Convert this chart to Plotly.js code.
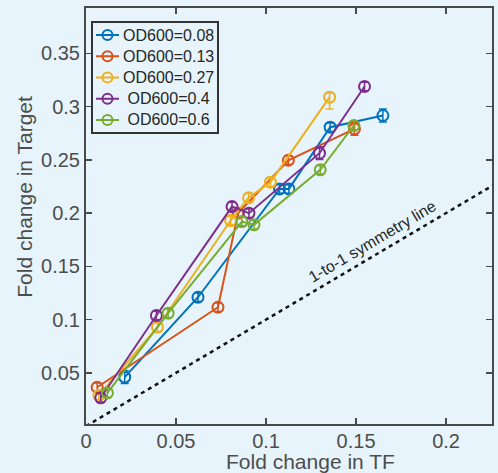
<!DOCTYPE html>
<html>
<head>
<meta charset="utf-8">
<script src="https://cdn.plot.ly/plotly-3.0.1.min.js"></script>
<style>
  html, body { margin: 0; padding: 0; background: #e7f4fb; }
  #chart { width: 498px; height: 473px; }
</style>
</head>
<body>
<div id="chart"></div>
<script>
// Fold change in target vs fold change in TF, one series per culture density
const seriesNames = ["OD600=0.08", "OD600=0.13", "OD600=0.27", "\u00a0OD600=0.4", "\u00a0OD600=0.6"];
const seriesColors = ["#0072BD", "#D95319", "#EDB120", "#7E2F8E", "#77AC30"];

const tfOD008 = [0.0215, 0.0622, 0.1075, 0.1127, 0.1356, 0.1649];
const targetOD008 = [0.046, 0.121, 0.2227, 0.2227, 0.2806, 0.2916];
const errOD008 = [0.006, 0.004, 0.004, 0.004, 0.004, 0.006];

const tfOD013 = [0.0062, 0.0733, 0.0845, 0.1124, 0.1491];
const targetOD013 = [0.0365, 0.1116, 0.200, 0.2496, 0.279];
const errOD013 = [0.004, 0.004, 0.004, 0.004, 0.006];

const tfOD027 = [0.0072, 0.0397, 0.0803, 0.0903, 0.1024, 0.1353];
const targetOD027 = [0.029, 0.0929, 0.193, 0.2143, 0.229, 0.3088];
const errOD027 = [0.004, 0.004, 0.004, 0.004, 0.004, 0.004];
const errLowOD027 = [0.004, 0.004, 0.004, 0.004, 0.004, 0.011];

const tfOD04 = [0.0082, 0.0391, 0.0811, 0.0905, 0.1297, 0.1547];
const targetOD04 = [0.0266, 0.1038, 0.2061, 0.1999, 0.2562, 0.3188];
const errOD04 = [0.004, 0.004, 0.004, 0.004, 0.006, 0.004];

const tfOD06 = [0.0119, 0.0456, 0.0866, 0.0933, 0.1301, 0.1488];
const targetOD06 = [0.0312, 0.106, 0.192, 0.189, 0.2406, 0.2822];
const errOD06 = [0.004, 0.004, 0.004, 0.004, 0.004, 0.004];

// y = x reference line
const symmetryX = [0, 0.3];
const symmetryY = [0, 0.3];

const xTicks = [0, 0.05, 0.1, 0.15, 0.2];
const xTickText = ["0", "0.05", "0.1", "0.15", "0.2"];
const yTicks = [0.05, 0.1, 0.15, 0.2, 0.25, 0.3, 0.35];
const yTickText = ["0.05", "0.1", "0.15", "0.2", "0.25", "0.3", "0.35"];

const xs = [tfOD008, tfOD013, tfOD027, tfOD04, tfOD06];
const ys = [targetOD008, targetOD013, targetOD027, targetOD04, targetOD06];
const errs = [errOD008, errOD013, errOD027, errOD04, errOD06];
const errLows = [errOD008, errOD013, errLowOD027, errOD04, errOD06];

const W = 498, H = 473;
const M = { l: 86, r: 6, t: 8, b: 49 };
const plotW = W - M.l - M.r, plotH = H - M.t - M.b;
// pixel position -> paper fraction
const px = v => (v - M.l) / plotW;
const py = v => 1 - (v - M.t) / plotH;

const bg = "#e7f4fb";
const axisColor = "#4a4a4a";
const textColor = "#4d4d4d";
const font = "Liberation Sans, Arial, sans-serif";

const traces = [{
  x: symmetryX, y: symmetryY,
  mode: "lines",
  line: { color: "#111111", width: 2.5, dash: "4px,4px" },
  showlegend: false,
  hoverinfo: "skip"
}];

for (let i = 0; i < seriesNames.length; i++) {
  traces.push({
    x: xs[i], y: ys[i],
    name: seriesNames[i],
    mode: "lines+markers",
    line: { color: seriesColors[i], width: 2 },
    marker: { symbol: "circle-open", size: 11, color: seriesColors[i], line: { width: 2, color: seriesColors[i] } },
    error_y: { type: "data", symmetric: false, array: errs[i], arrayminus: errLows[i],
               color: seriesColors[i], thickness: 1.5, width: 4 },
    showlegend: false
  });
}

// Boxed legend in the upper-left corner of the axes
const legendBox = { left: 92, right: 218, top: 22, bottom: 133 };
const rowTop = 35, rowStep = 21.25;
const shapes = [{
  type: "rect", xref: "paper", yref: "paper",
  x0: px(legendBox.left), x1: px(legendBox.right), y0: py(legendBox.bottom), y1: py(legendBox.top),
  line: { color: "#333333", width: 2 }, fillcolor: bg, layer: "above"
}];
const annotations = [];
seriesNames.forEach((name, i) => {
  const rowY = py(rowTop + i * rowStep);
  shapes.push({
    type: "line", xref: "paper", yref: "paper",
    x0: px(96), x1: px(119), y0: rowY, y1: rowY,
    line: { color: seriesColors[i], width: 2 }, layer: "above"
  });
  shapes.push({
    type: "circle", xref: "paper", yref: "paper",
    xsizemode: "pixel", ysizemode: "pixel", xanchor: px(107.5), yanchor: rowY,
    x0: -5, x1: 5, y0: -5, y1: 5,
    line: { color: seriesColors[i], width: 2 }, fillcolor: "rgba(0,0,0,0)", layer: "above"
  });
  annotations.push({
    text: name, xref: "paper", yref: "paper", x: px(121), y: rowY,
    xanchor: "left", yanchor: "middle", showarrow: false,
    font: { size: 16, color: "#262626", family: font }
  });
});

annotations.push(
  { text: "Fold change in TF", xref: "paper", yref: "paper", x: 0.554, y: -0.091,
    xanchor: "center", yanchor: "middle", showarrow: false,
    font: { size: 21, color: textColor, family: font } },
  { text: "Fold change in Target", xref: "paper", yref: "paper", x: -0.152, y: 0.547,
    xanchor: "center", yanchor: "middle", showarrow: false, textangle: -90,
    font: { size: 21, color: textColor, family: font } },
  { text: "1-to-1 symmetry line", xref: "x", yref: "y", x: 0.159, y: 0.173,
    xanchor: "center", yanchor: "middle", showarrow: false, textangle: -30.6,
    font: { size: 16, color: "#262626", family: font } }
);

const layout = {
  width: W, height: H,
  margin: M,
  paper_bgcolor: bg,
  plot_bgcolor: bg,
  font: { family: font, color: textColor, size: 20 },
  showlegend: false,
  shapes: shapes,
  annotations: annotations,
  xaxis: {
    range: [0, 0.2255],
    tickvals: xTicks, ticktext: xTickText,
    ticks: "inside", ticklen: 6, tickwidth: 1.5, tickcolor: axisColor,
    showline: true, linecolor: axisColor, linewidth: 2, mirror: "ticks",
    showgrid: false, zeroline: false, ticklabelstandoff: -2,
    tickfont: { size: 20, color: textColor }
  },
  yaxis: {
    range: [0.002, 0.3925],
    tickvals: yTicks, ticktext: yTickText,
    ticks: "inside", ticklen: 6, tickwidth: 1.5, tickcolor: axisColor,
    showline: true, linecolor: axisColor, linewidth: 2, mirror: "ticks",
    showgrid: false, zeroline: false,
    tickfont: { size: 20, color: textColor }
  }
};

Plotly.newPlot("chart", traces, layout, { displayModeBar: false, staticPlot: true });
</script>
</body>
</html>
